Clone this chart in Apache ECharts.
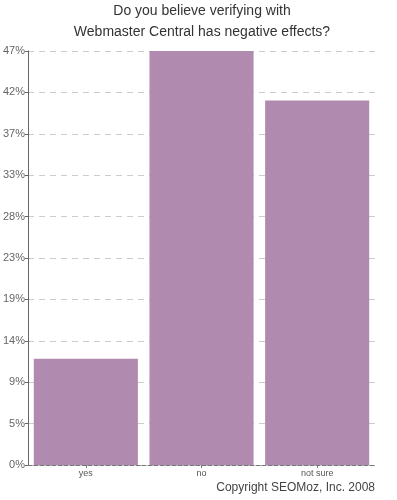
<!DOCTYPE html>
<html>
<head>
<meta charset="utf-8">
<script src="https://cdn.jsdelivr.net/npm/echarts@6/dist/echarts.min.js"></script>
<style>
  html, body { margin: 0; padding: 0; background: #fff; }
  #chart { width: 397px; height: 500px; }
</style>
</head>
<body>
<div id="chart"></div>
<script>
// data
var categories = ["yes", "no", "not sure"];
var percentValues = [12.0, 46.8, 41.2];
var axisMax = 46.8;
var axisStep = 4.68; // 10 gridlines, labels rounded

var myChart = echarts.init(document.getElementById("chart"));

var option = {
  animation: false,
  textStyle: { fontFamily: "Liberation Sans, Arial, sans-serif" },
  title: {
    text: "Do you believe verifying with\nWebmaster Central has negative effects?",
    left: 202,
    top: 1,
    padding: 0,
    textAlign: "center",
    textStyle: {
      fontSize: 14,
      fontWeight: "normal",
      color: "#333",
      lineHeight: 21
    }
  },
  graphic: [
    {
      type: "text",
      right: 22,
      top: 482,
      style: {
        text: "Copyright SEOMoz, Inc. 2008",
        fontSize: 12,
        fill: "#444",
        fontFamily: "Liberation Sans, Arial, sans-serif"
      }
    }
  ],
  grid: {
    left: 27,
    right: 22,
    top: 51,
    bottom: 35
  },
  xAxis: {
    type: "category",
    data: categories,
    axisLine: { lineStyle: { color: "#777", type: "dashed", width: 1 } },
    axisTick: { show: true, alignWithLabel: true, length: 3, lineStyle: { color: "#777" } },
    axisLabel: { fontSize: 9, color: "#555", margin: 4 }
  },
  yAxis: {
    type: "value",
    min: 0,
    max: axisMax,
    interval: axisStep,
    axisLine: { show: true, lineStyle: { color: "#666" } },
    axisTick: { show: true, length: 3, lineStyle: { color: "#666" } },
    axisLabel: {
      fontSize: 11,
      color: "#666",
      margin: 3,
      formatter: function (v) { return Math.round(v) + "%"; }
    },
    splitLine: { show: true, lineStyle: { color: "#ccc", type: [6, 5] } }
  },
  series: [
    {
      type: "bar",
      data: percentValues,
      barCategoryGap: "10%",
      itemStyle: { color: "#b08baf" }
    }
  ]
};

myChart.setOption(option);
</script>
</body>
</html>
